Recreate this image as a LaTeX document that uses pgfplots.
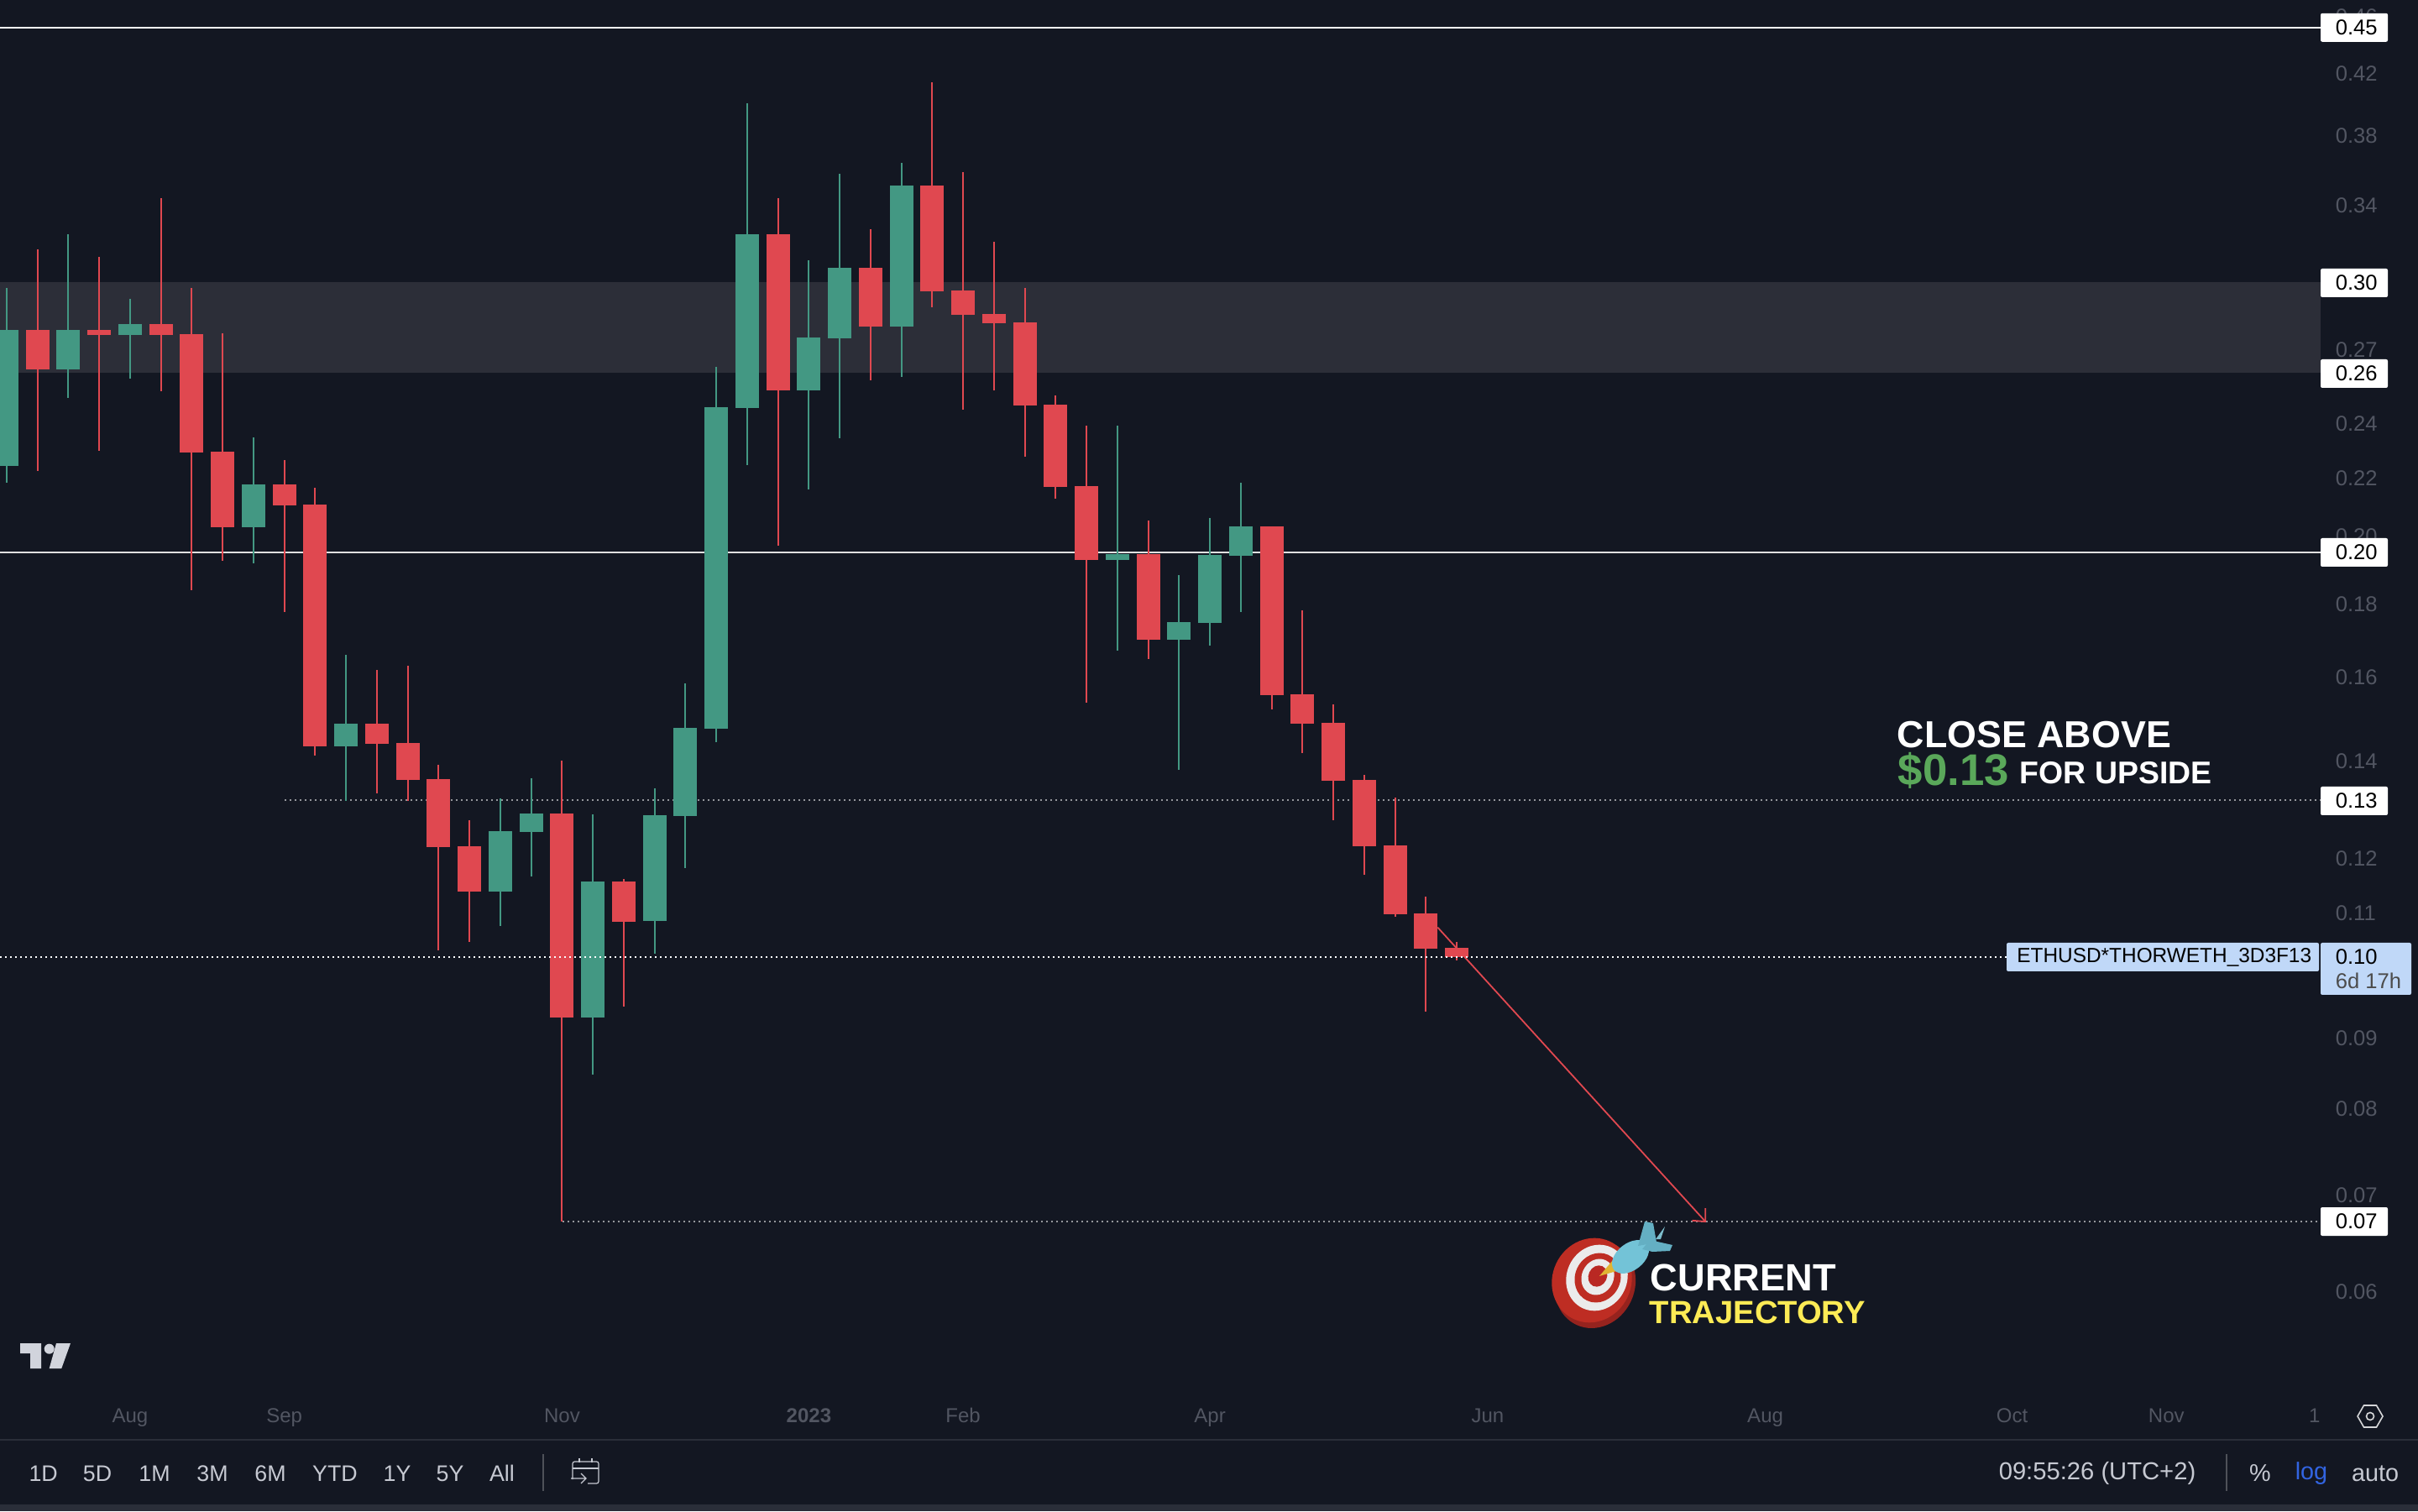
\documentclass[border=0pt]{standalone}
\usepackage{fontspec}
\setmainfont{Liberation Sans}
\usepackage{pgfplots}
\pgfplotsset{compat=1.18}
\newcommand\fs[1]{\fontsize{#1}{#1}\selectfont}
\definecolor{bg}{HTML}{131722}
\definecolor{zone}{HTML}{2C2E38}
\definecolor{cred}{HTML}{E04850}
\definecolor{cgreen}{HTML}{439883}
\definecolor{tick}{HTML}{525662}
\definecolor{bar}{HTML}{2A2E39}
\definecolor{tool}{HTML}{C6C9D2}
\definecolor{chip}{HTML}{C0D8F8}
\begin{document}
\begin{tikzpicture}
\path[use as bounding box,fill=bg] (0,0) rectangle (720pt,450pt);
\begin{axis}[at={(0pt,35pt)},anchor=south west,scale only axis,width=691pt,height=415pt,
  xmin=-0.21775,xmax=75.0,ymode=log,ymin=0.05103,ymax=0.47088,
  axis line style={draw=none},tick style={draw=none},major tick length=0pt,
  yminorticks=false,xminorticks=false,ytick pos=right,xtick pos=bottom,
  ytick={0.45844,0.41883,0.37928,0.33939,0.26945,0.23966,0.21966,0.20017,0.17972,0.15986,0.13983,0.11978,0.10981,0.08989,0.08036,0.06999,0.06},
  yticklabels={0.46,0.42,0.38,0.34,0.27,0.24,0.22,0.20,0.18,0.16,0.14,0.12,0.11,0.09,0.08,0.07,0.06},
  yticklabel style={font=\fs{6.4},text=tick,anchor=west,inner sep=0pt,xshift=4.25pt},
  xtick={4,9,18,26,31,39,48,57,65,70,74.8},
  xticklabels={Aug,Sep,Nov,\textbf{2023},Feb,Apr,Jun,Aug,Oct,Nov,1},
  xticklabel style={font=\fs{6},text=tick,anchor=center,inner sep=0pt,text height=4.4pt,text depth=1.3pt,yshift=-7pt},
  unbounded coords=jump,clip=true]
% resistance / support zone
\addplot[fill=zone,draw=none,mark=none] coordinates {(-0.21775,0.30031)(75,0.30031)(75,0.25988)(-0.21775,0.25988)};
% level lines
\addplot[white,line width=.45pt,mark=none] coordinates {(-0.21775,0.45077)(75,0.45077)};
\addplot[white!88!black,line width=.45pt,mark=none] coordinates {(-0.21775,0.19525)(75,0.19525)};
\addplot[white!55!bg,line width=.4pt,dash pattern=on .5pt off 1pt,mark=none] coordinates {(9.01,0.13148)(75,0.13148)};
\addplot[white!55!bg,line width=.4pt,dash pattern=on .5pt off 1pt,mark=none] coordinates {(18.02,0.06714)(75,0.06714)};
% green wicks
\addplot[cgreen,line width=.5pt,line cap=butt,mark=none] coordinates {
(0,0.29738)(0,0.21802)(0,nan)(2,0.32412)(2,0.24958)(2,nan)(4,0.29241)(4,0.25739)(4,nan)(8,0.23436)(8,0.19175)(8,nan)
(11,0.16574)(11,0.13137)(11,nan)(16,0.13185)(16,0.10754)(16,nan)(17,0.13617)(17,0.11637)(17,nan)(19,0.12850)(19,0.08488)(19,nan)
(21,0.13400)(21,0.10288)(21,nan)(22,0.15837)(22,0.11798)(22,nan)(23,0.26236)(23,0.14420)(23,nan)(24,0.39945)(24,0.22430)(24,nan)
(26,0.31094)(26,0.21567)(26,nan)(27,0.35678)(27,0.23415)(27,nan)(29,0.36318)(29,0.25815)(29,nan)(36,0.23886)(36,0.16685)(36,nan)
(38,0.18824)(38,0.13790)(38,nan)(39,0.20610)(39,0.16813)(39,nan)(40,0.21799)(40,0.17743)};
% green bodies
\addplot[cgreen,line width=7pt,line cap=butt,mark=none] coordinates {
(0,0.27817)(0,0.22396)(0,nan)(2,0.27817)(2,0.26117)(2,nan)(4,0.28094)(4,0.27602)(4,nan)(8,0.21752)(8,0.20314)(8,nan)
(11,0.14851)(11,0.14328)(11,nan)(16,0.12509)(16,0.11363)(16,nan)(17,0.12866)(17,0.12496)(17,nan)(19,0.11547)(19,0.09296)(19,nan)
(21,0.12835)(21,0.10844)(21,nan)(22,0.14752)(22,0.12819)(22,nan)(23,0.24600)(23,0.14732)(23,nan)(24,0.32412)(24,0.24557)(24,nan)
(26,0.27495)(26,0.25268)(26,nan)(27,0.30714)(27,0.27454)(27,nan)(29,0.35029)(29,0.27963)(29,nan)(36,0.19457)(36,0.19278)(36,nan)
(38,0.17458)(38,0.16982)(38,nan)(39,0.19442)(39,0.17433)(39,nan)(40,0.20344)(40,0.19410)};
% red wicks
\addplot[cred,line width=.5pt,line cap=butt,mark=none] coordinates {
(1,0.31649)(1,0.22227)(1,nan)(3,0.31261)(3,0.22937)(3,nan)(5,0.34337)(5,0.25231)(5,nan)(6,0.29738)(6,0.18369)(6,nan)
(7,0.27668)(7,0.19250)(7,nan)(9,0.22604)(9,0.17745)(9,nan)(10,0.21636)(10,0.14114)(10,nan)(12,0.16179)(12,0.13289)(12,nan)
(13,0.16282)(13,0.13137)(13,nan)(14,0.13904)(14,0.10345)(14,nan)(15,0.12735)(15,0.10487)(15,nan)(18,0.14005)(18,0.06715)(18,nan)
(20,0.11595)(20,0.09457)(20,nan)(25,0.34333)(25,0.19727)(25,nan)(28,0.32661)(28,0.25677)(28,nan)(30,0.41288)(30,0.28837)(30,nan)
(31,0.35787)(31,0.24502)(31,nan)(32,0.32015)(32,0.25268)(32,nan)(33,0.29759)(33,0.22723)(33,nan)(34,0.25073)(34,0.21254)(34,nan)
(35,0.23886)(35,0.15356)(35,nan)(37,0.20533)(37,0.16455)(37,nan)(41,0.20344)(41,0.15193)(41,nan)(42,0.17797)(42,0.14167)(42,nan)
(43,0.15315)(43,0.12732)(43,nan)(44,0.13686)(44,0.11674)(44,nan)(45,0.13201)(45,0.10918)(45,nan)(46,0.11273)(46,0.09383)(46,nan)
(47,0.10487)(47,0.10183)};
% red bodies
\addplot[cred,line width=7pt,line cap=butt,mark=none] coordinates {
(1,0.27817)(1,0.26117)(1,nan)(3,0.27817)(3,0.27602)(3,nan)(5,0.28094)(5,0.27602)(5,nan)(6,0.27646)(6,0.22885)(6,nan)
(7,0.22918)(7,0.20314)(7,nan)(9,0.21752)(9,0.21028)(9,nan)(10,0.21062)(10,0.14320)(10,nan)(12,0.14851)(12,0.14378)(12,nan)
(13,0.14405)(13,0.13577)(13,nan)(14,0.13593)(14,0.12200)(14,nan)(15,0.12215)(15,0.11363)(15,nan)(18,0.12866)(18,0.09296)(18,nan)
(20,0.11547)(20,0.10825)(20,nan)(25,0.32412)(25,0.25268)(25,nan)(28,0.30714)(28,0.27963)(28,nan)(30,0.35029)(30,0.29600)(30,nan)
(31,0.29623)(31,0.28507)(31,nan)(32,0.28549)(32,0.28117)(32,nan)(33,0.28158)(33,0.24673)(33,nan)(34,0.24689)(34,0.21665)(34,nan)
(35,0.21682)(35,0.19278)(35,nan)(37,0.19457)(37,0.16982)(37,nan)(41,0.20344)(41,0.15547)(41,nan)(42,0.15557)(42,0.14845)(42,nan)
(43,0.14869)(43,0.13559)(43,nan)(44,0.13577)(44,0.12211)(44,nan)(45,0.12229)(45,0.10962)(45,nan)(46,0.10977)(46,0.10372)(46,nan)
(47,0.10386)(47,0.10232)};
% current price line
\addplot[white!92!chip,line width=.5pt,dash pattern=on .5pt off 1pt,mark=none] coordinates {(-0.21775,0.10240)(64.83,0.10240)};
% trajectory arrow
\addplot[cred,line width=.45pt,mark=none] coordinates {(46.38,0.10733)(55.06,0.06714)};
\addplot[cred,line width=.45pt,mark=none] coordinates {(54.63,0.06726)(55.06,0.06714)(55.06,0.06859)};
\end{axis}
\begin{scope}[x=0.25pt,y=-0.25pt,yshift=450pt]
% right-hand price chips
\foreach \yc/\lab in {32.8/0.45,337/0.30,445/0.26,658/0.20,954/0.13,1455/0.07}{
  \fill[white,rounded corners=.5pt] (2764,\yc-17) rectangle (2844,\yc+17);
  \node[anchor=west,inner sep=0pt,font=\fs{6.4},text=black] at (2781,\yc) {\lab};
}
\fill[chip,rounded corners=.5pt] (2764,1123) rectangle (2872,1185);
\node[anchor=west,inner sep=0pt,font=\fs{6.4},text=black] at (2781,1140) {0.10};
\node[anchor=west,inner sep=0pt,font=\fs{6.4},text=black!70] at (2781,1168) {6d 17h};
\fill[chip,rounded corners=.5pt] (2390,1123) rectangle (2762,1157);
\node[anchor=west,inner sep=0pt,font=\fs{6.1},text=black] at (2401.6,1140) {ETHUSD*THORWETH\_3D3F13};
% annotations
\node[anchor=base west,inner sep=0pt,font=\fs{11.2}\bfseries,text=white] at (2259,891) {CLOSE ABOVE};
\node[anchor=base west,inner sep=0pt,font=\fs{13.2}\bfseries,text={rgb,255:red,90;green,168;blue,90}] at (2260,936) {\$0.13};
\node[anchor=base west,inner sep=0pt,font=\fs{9.35}\bfseries,text=white] at (2405,934) {FOR UPSIDE};
\node[anchor=base west,inner sep=0pt,font=\fs{11.3}\bfseries,text=white] at (1965,1537) {CURRENT};
\node[anchor=base west,inner sep=0pt,font=\fs{9.55}\bfseries,text={rgb,255:red,253;green,235;blue,85}] at (1964,1576) {TRAJECTORY};
% target icon
\fill[rotate around={-25:(1900,1530)},fill={rgb,255:red,150;green,35;blue,30}] (1900,1530) ellipse (47 and 53);
\fill[rotate around={-25:(1896,1525)},fill={rgb,255:red,190;green,45;blue,35}] (1896,1525) ellipse (47 and 51);
\fill[white!92!black,rotate around={-25:(1902,1522)}] (1902,1522) ellipse (36 and 40);
\fill[rotate around={-25:(1903,1522)},fill={rgb,255:red,190;green,45;blue,35}] (1903,1522) ellipse (27 and 30);
\fill[white!92!black,rotate around={-25:(1903,1521)}] (1903,1521) ellipse (19 and 22);
\fill[rotate around={-25:(1903,1520)},fill={rgb,255:red,185;green,40;blue,35}] (1903,1520) ellipse (11 and 13);
\fill[fill={rgb,255:red,225;green,180;blue,50}] (1905,1520)--(1921,1501)--(1932,1512)--cycle;
\fill[rotate around={38:(1942,1497)},fill={rgb,255:red,115;green,195;blue,215}] (1942,1497) ellipse (25 and 16);
\fill[fill={rgb,255:red,100;green,175;blue,195}] (1951,1484)--(1959,1455)--(1969,1457)--(1973,1480)--cycle;
\fill[fill={rgb,255:red,125;green,190;blue,205}] (1972,1476)--(1983,1461)--(1978,1476)--cycle;
\fill[fill={rgb,255:red,100;green,175;blue,195}] (1965,1477)--(1992,1483)--(1989,1490)--(1968,1491)--(1956,1488)--cycle;
% TradingView mark
\fill[fill={rgb,255:red,209;green,212;blue,220}] (24,1600)--(49,1600)--(49,1630)--(36,1630)--(36,1612)--(24,1612)--cycle;
\fill[fill={rgb,255:red,209;green,212;blue,220}] (58.7,1606.7) circle (6);
\fill[fill={rgb,255:red,209;green,212;blue,220}] (67,1600)--(84,1600)--(73.3,1630)--(58.7,1630)--cycle;
% bottom bar
\draw[bar,line width=.5pt] (0,1715)--(2880,1715);
\fill[bar] (0,1792) rectangle (2880,1800);
\draw[white!25!bg,line width=.3pt] (647,1732)--(647,1776);
\draw[white!25!bg,line width=.3pt] (2652,1732)--(2652,1776);
\foreach \xc/\lab in {51.7/1D,116/5D,184/1M,253/3M,322/6M,399/YTD,473/1Y,536/5Y,598/All}{
  \node[anchor=center,inner sep=0pt,font=\fs{6.7},text=tool] at (\xc,1755) {\lab};
}
\node[anchor=center,inner sep=0pt,font=\fs{7.3},text=tool] at (2498,1755) {09:55:26 (UTC+2)};
\node[anchor=center,inner sep=0pt,font=\fs{7.2},text=tool] at (2692,1755) {\%};
\node[anchor=center,inner sep=0pt,font=\fs{7.2},text={rgb,255:red,50;green,100;blue,225}] at (2753,1755) {log};
\node[anchor=center,inner sep=0pt,font=\fs{7.2},text=tool] at (2829,1755) {auto};
% calendar icon
\draw[tool,line width=.3pt,rounded corners=.6pt] (682,1762)--(682,1741)--(713,1741)--(713,1767)--(700,1767);
\draw[tool,line width=.3pt] (682,1749)--(713,1749) (690,1737)--(690,1742) (705,1737)--(705,1742);
\draw[tool,line width=.3pt] (680,1761)--(698,1761) (692,1755)--(698,1761)--(692,1767);
% settings icon
\draw[white!82!bg,line width=.4pt] (2808,1687)--(2815.5,1674)--(2830.5,1674)--(2838,1687)--(2830.5,1700)--(2815.5,1700)--cycle;
\draw[white!82!bg,line width=.4pt] (2823,1687) circle (4.5);
\end{scope}
\end{tikzpicture}
\end{document}
